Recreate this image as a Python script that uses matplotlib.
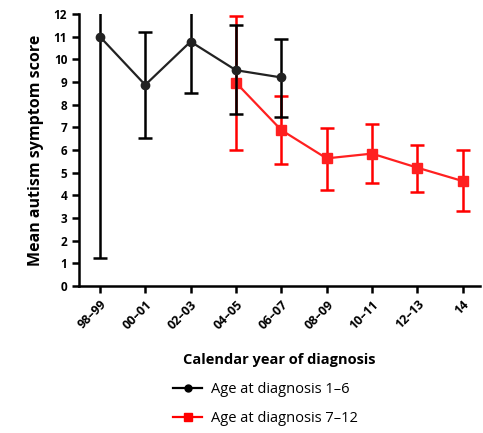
import numpy as np
import matplotlib
matplotlib.use('Agg')
import matplotlib.pyplot as plt
from matplotlib.lines import Line2D

periods = ['98–99', '00–01', '02–03', '04–05', '06–07', '08–09', '10–11', '12–13', '14']

# age at diagnosis 1-6 (first five periods)
young_mean = [11.0, 8.87, 10.78, 9.52, 9.2]
young_lo = [1.25, 6.53, 8.5, 7.57, 7.44]
young_hi = [12.8, 11.19, 13.0, 11.51, 10.88]

# age at diagnosis 7-12 (from 04-05)
old_mean = [8.97, 6.88, 5.63, 5.84, 5.22, 4.63]
old_lo = [6.0, 5.38, 4.22, 4.56, 4.13, 3.31]
old_hi = [11.92, 8.39, 6.96, 7.15, 6.22, 6.0]

plt.rcParams['font.family'] = ['Open Sans', 'DejaVu Sans']

fig = plt.figure(figsize=(4.83, 4.33), dpi=100)
ax = fig.add_axes([0.1636, 0.3395, 0.83, 0.6282])

x = np.arange(len(periods))
xy = x[:len(young_mean)]
xo = x[3:3 + len(old_mean)]

ym = np.array(young_mean)
om = np.array(old_mean)
ax.errorbar(xy, ym, yerr=[ym - np.array(young_lo), np.array(young_hi) - ym],
            color='#222222', ecolor='black', elinewidth=1.8, capsize=5, capthick=1.8,
            marker='o', markersize=6, lw=1.6, zorder=3)
ax.errorbar(xo, om, yerr=[om - np.array(old_lo), np.array(old_hi) - om],
            color='#ff2020', ecolor='red', elinewidth=1.8, capsize=5, capthick=1.8,
            marker='s', markersize=6.5, lw=1.6, zorder=2)

ax.set_xlim(-0.46, 8.38)
ax.set_ylim(0, 12)
ax.set_yticks(range(0, 13))
ax.set_xticks(x)
ax.set_xticklabels(periods, rotation=45, ha='right', rotation_mode='anchor',
                   fontsize=9, fontweight='bold')
for lab in ax.get_yticklabels():
    lab.set_fontsize(8.5)
    lab.set_fontweight('bold')
ax.spines['top'].set_visible(False)
ax.spines['right'].set_visible(False)
ax.spines['left'].set_linewidth(1.8)
ax.spines['bottom'].set_linewidth(1.8)
ax.tick_params(width=1.8, length=5)
ax.set_ylabel('Mean autism symptom score', fontsize=11.5, fontweight='bold', labelpad=7)
ax.set_xlabel('Calendar year of diagnosis', fontsize=10.5, fontweight='bold', labelpad=15)

handles = [Line2D([], [], color='black', marker='o', markersize=5, lw=1.6),
           Line2D([], [], color='red', marker='s', markersize=5.5, lw=1.6)]
labels = ['Age at diagnosis 1–6', 'Age at diagnosis 7–12']
fig.legend(handles, labels, loc='upper center', bbox_to_anchor=(0.55, 0.148), frameon=False,
           fontsize=10.5, handlelength=2.0, labelspacing=0.95, handletextpad=0.6)

fig.savefig('out.png', dpi=100)
